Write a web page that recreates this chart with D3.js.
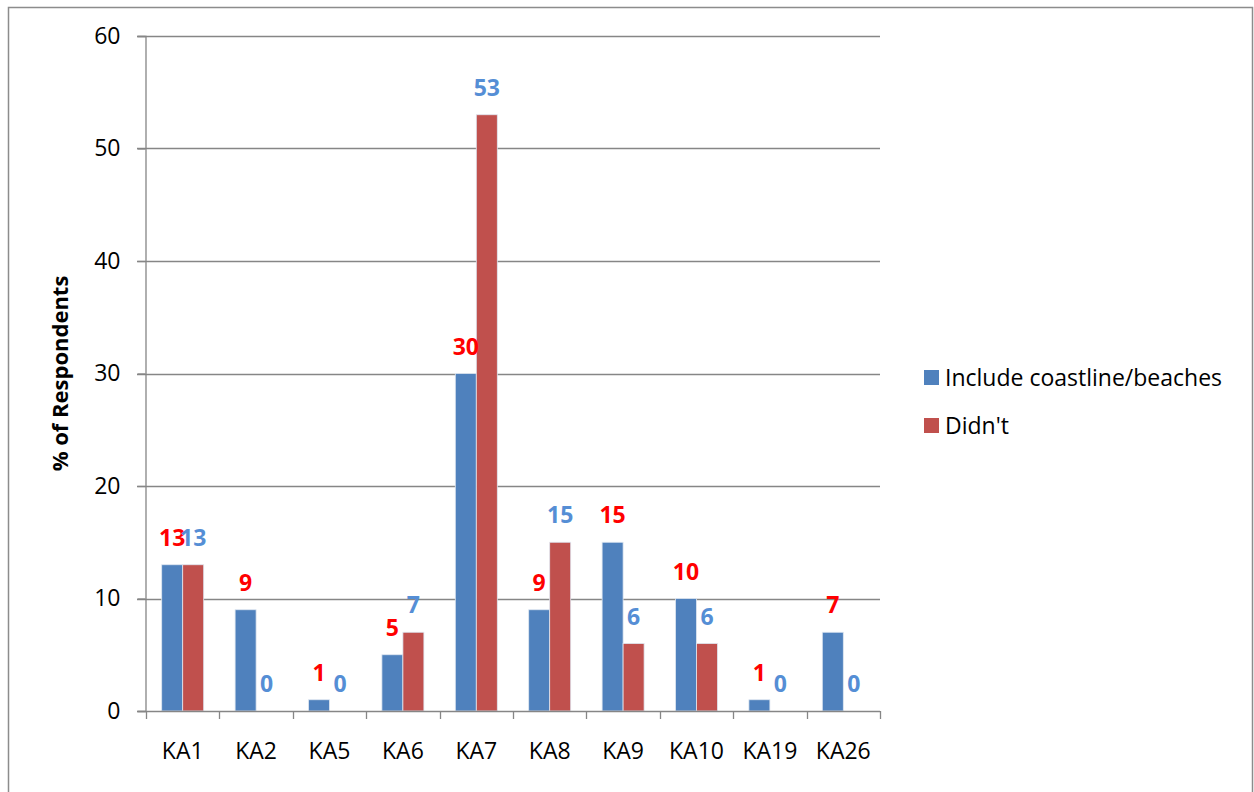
<!DOCTYPE html>
<html>
<head>
<meta charset="utf-8">
<script src="https://cdn.jsdelivr.net/npm/d3@7"></script>
<style>
  html, body { margin: 0; padding: 0; background: #fff; }
  svg { display: block; }
  text { font-family: "Open Sans", "Noto Sans", sans-serif; }
</style>
</head>
<body>
<svg id="chart" width="1254" height="792"></svg>
<script>
const categories = ["KA1", "KA2", "KA5", "KA6", "KA7", "KA8", "KA9", "KA10", "KA19", "KA26"];
const seriesNames = ["Include coastline/beaches", "Didn't"];
const includeValues = [13, 9, 1, 5, 30, 9, 15, 10, 1, 7];
const didntValues = [13, 0, 0, 7, 53, 15, 6, 6, 0, 0];
const yTicks = [0, 10, 20, 30, 40, 50, 60];

const barColors = ["#4F81BD", "#C0504D"];
const labelColors = ["#FF0000", "#558ED5"];
const seriesValues = [includeValues, didntValues];

const svg = d3.select("#chart");

// outer border
svg.append("rect")
  .attr("x", 8.5).attr("y", 7.5)
  .attr("width", 1244).attr("height", 800)
  .attr("fill", "none").attr("stroke", "#8c8c8c").attr("stroke-width", 1.5);

const plot = { left: 146, right: 880, top: 36, bottom: 711 };

const x0 = d3.scaleBand().domain(categories).range([plot.left, plot.right]).padding(0);
const step = x0.bandwidth();
const x1 = d3.scaleBand().domain(seriesNames)
  .range([step / 2 - 21, step / 2 + 21]).padding(0);
const y = d3.scaleLinear().domain([0, 60]).range([plot.bottom, plot.top]);

// gridlines
svg.append("g").selectAll("line").data(yTicks.filter(d => d > 0)).join("line")
  .attr("x1", plot.left - 9).attr("x2", plot.right)
  .attr("y1", d => Math.round(y(d)) + 0.5).attr("y2", d => Math.round(y(d)) + 0.5)
  .attr("stroke", "#868686").attr("stroke-width", 1.3);

// y axis
const yAxis = svg.append("g")
  .attr("transform", `translate(${plot.left - 0.5},0)`)
  .call(d3.axisLeft(y).tickValues(yTicks).tickSize(8).tickPadding(17));
yAxis.select(".domain").attr("stroke", "#868686").attr("stroke-width", 1.3);
yAxis.selectAll(".tick line").attr("stroke", "#868686").attr("stroke-width", 1.3);
yAxis.selectAll(".tick text")
  .attr("font-size", 23).attr("fill", "#000")
  .style("font-family", "'Open Sans', sans-serif");

// bars
const groups = svg.append("g").selectAll("g").data(categories).join("g")
  .attr("transform", d => `translate(${x0(d)},0)`);

seriesNames.forEach((s, si) => {
  groups.append("rect")
    .attr("x", x1(s))
    .attr("width", x1.bandwidth())
    .attr("y", (d, i) => y(seriesValues[si][i]))
    .attr("height", (d, i) => y(0) - y(seriesValues[si][i]))
    .attr("fill", barColors[si])
    .attr("stroke", "#dfe7f1").attr("stroke-width", 0.8);
});

// x axis
const xAxis = svg.append("g")
  .attr("transform", `translate(0,${plot.bottom + 0.5})`)
  .call(d3.axisBottom(x0).tickSize(0).tickPadding(31));
xAxis.select(".domain").remove();
xAxis.selectAll(".tick text")
  .attr("font-size", 23).attr("fill", "#000")
  .style("font-family", "'Open Sans', sans-serif");
svg.append("line")
  .attr("x1", plot.left - 9).attr("x2", plot.right)
  .attr("y1", plot.bottom + 0.5).attr("y2", plot.bottom + 0.5)
  .attr("stroke", "#868686").attr("stroke-width", 1.3);
const boundaries = categories.map(c => x0(c)).concat([plot.right]);
svg.append("g").selectAll("line").data(boundaries).join("line")
  .attr("x1", d => Math.round(d) + 0.5).attr("x2", d => Math.round(d) + 0.5)
  .attr("y1", plot.bottom).attr("y2", plot.bottom + 8)
  .attr("stroke", "#868686").attr("stroke-width", 1.3);

// data labels
seriesNames.forEach((s, si) => {
  groups.append("text")
    .attr("x", x1(s) + x1.bandwidth() / 2)
    .attr("y", (d, i) => y(seriesValues[si][i]) - 19)
    .attr("text-anchor", "middle")
    .attr("font-size", 23).attr("font-weight", "bold")
    .attr("fill", labelColors[si])
    .text((d, i) => seriesValues[si][i]);
});

// y axis title
svg.append("text")
  .attr("transform", `translate(68,${(plot.top + plot.bottom) / 2}) rotate(-90)`)
  .attr("text-anchor", "middle")
  .attr("font-size", 22).attr("font-weight", "bold")
  .text("% of Respondents");

// legend
const legend = svg.append("g").selectAll("g").data(seriesNames).join("g")
  .attr("transform", (d, i) => `translate(924,${370 + i * 48})`);
legend.append("rect")
  .attr("width", 15).attr("height", 15)
  .attr("fill", (d, i) => barColors[i]);
legend.append("text")
  .attr("x", 21).attr("y", 7.5).attr("dy", "0.35em")
  .attr("font-size", 23).attr("fill", "#000")
  .text(d => d);
</script>
</body>
</html>
